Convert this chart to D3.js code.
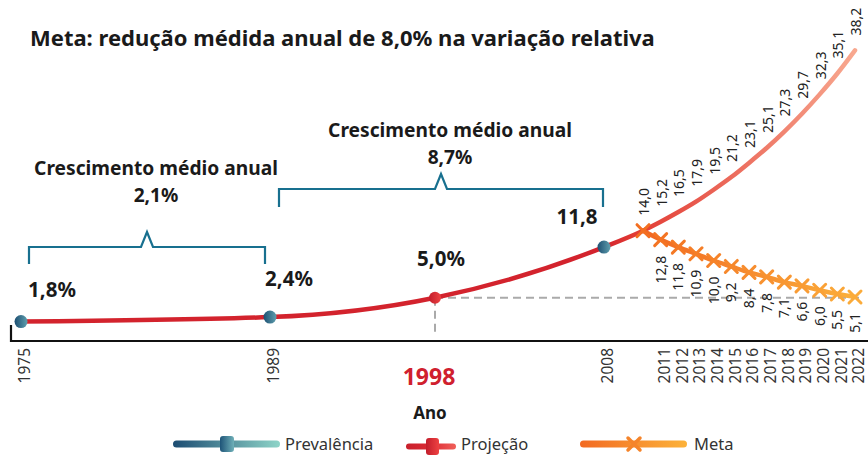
<!DOCTYPE html>
<html><head><meta charset="utf-8">
<script src="https://cdn.jsdelivr.net/npm/d3@7"></script>
<style>
html,body{margin:0;padding:0;background:#fff;}
svg{display:block;font-family:"Noto Sans",sans-serif;}
</style></head>
<body><svg id="c" width="868" height="455"></svg>
<script>
// ---- data ----
const prevYears = [1975, 1989, 2008];
const prevValues = [1.8, 2.4, 11.8];
const prevLabels = ["1,8%", "2,4%", "11,8"];
const projYears = [1975, 1989, 1998, 2008, 2010, 2011, 2012, 2013, 2014, 2015, 2016, 2017, 2018, 2019, 2020, 2021, 2022];
const projValues = [1.8, 2.4, 5.0, 11.8, 14.0, 15.2, 16.5, 17.9, 19.5, 21.2, 23.1, 25.1, 27.3, 29.7, 32.3, 35.1, 38.2];
const projLabelYears = [2010, 2011, 2012, 2013, 2014, 2015, 2016, 2017, 2018, 2019, 2020, 2021, 2022];
const projLabels = ["14,0","15,2","16,5","17,9","19,5","21,2","23,1","25,1","27,3","29,7","32,3","35,1","38,2"];
const metaYears = [2010, 2011, 2012, 2013, 2014, 2015, 2016, 2017, 2018, 2019, 2020, 2021, 2022];
const metaValues = [14.0, 12.8, 11.8, 10.9, 10.0, 9.2, 8.4, 7.8, 7.1, 6.6, 6.0, 5.5, 5.1];
const metaLabels = ["", "12,8","11,8","10,9","10,0","9,2","8,4","7,8","7,1","6,6","6,0","5,5","5,1"];
const tickYears = [1975, 1989, 2008, 2011, 2012, 2013, 2014, 2015, 2016, 2017, 2018, 2019, 2020, 2021, 2022];
const highlightYear = 1998, highlightValue = 5.0, highlightLabel = "5,0%";
const brackets = [
  {from: 1975, to: 1989, title: "Crescimento médio anual", value: "2,1%"},
  {from: 1989, to: 2008, title: "Crescimento médio anual", value: "8,7%"}
];
const titleText = "Meta: redução médida anual de 8,0% na variação relativa";
const axisTitle = "Ano";
const legendItems = ["Prevalência", "Projeção", "Meta"];

// ---- scales ----
const x = d3.scaleLinear().domain([1975, 1989, 1998, 2008, 2010, 2022]).range([21, 270, 435, 604, 643, 855]);
const y = d3.scaleLinear().domain([0, 40]).range([335, 37]);

const svg = d3.select("#c");
const defs = svg.append("defs");
function lg(id, stops, x1, x2) {
  const g = defs.append("linearGradient").attr("id", id);
  if (x1 !== undefined) g.attr("gradientUnits", "userSpaceOnUse").attr("x1", x1).attr("x2", x2).attr("y1", 0).attr("y2", 0);
  stops.forEach(s => g.append("stop").attr("offset", s[0]).attr("stop-color", s[1]));
}
lg("projG", [[0, "#d3232d"], [0.12, "#e23b34"], [1, "#f8a88f"]], x(2008), x(2022));
lg("metaG", [[0, "#f16722"], [1, "#fbb03b"]], x(2010), x(2022));
lg("blueDot", [[0, "#1d4f72"], [1, "#5f9fae"]]);
lg("redDot", [[0, "#c21d2b"], [1, "#ee4242"]]);
lg("legBlue", [[0, "#1c4c72"], [1, "#8ed4c8"]]);
lg("legRed", [[0, "#c8202c"], [0.5, "#dc2a33"], [1, "#f0605a"]]);
lg("legOrange", [[0, "#f26a22"], [1, "#fcb23a"]]);
lg("legMarkBlue", [[0, "#1e5478"], [1, "#6fb0b8"]]);

// title
svg.append("text").attr("x", 30).attr("y", 46).attr("font-size", 22).attr("font-weight", 700)
  .attr("fill", "#1a1a1a").text(titleText);

// axis line
svg.append("path").attr("d", `M11,325V341H868`).attr("fill", "none").attr("stroke", "#111").attr("stroke-width", 2.2);

// tick labels
svg.append("g").selectAll("text").data(tickYears).join("text")
  .attr("transform", d => `translate(${x(d) + 4},348) rotate(-90)`)
  .attr("text-anchor", "end").attr("dy", "0.35em").attr("font-size", 15.5).attr("fill", "#333")
  .text(d => d);

svg.append("text").attr("x", 429).attr("y", 385).attr("text-anchor", "middle")
  .attr("font-size", 23).attr("font-weight", 700).attr("fill", "#d0202e").text(highlightYear);
svg.append("text").attr("x", 430).attr("y", 419).attr("text-anchor", "middle")
  .attr("font-size", 17).attr("font-weight", 700).attr("fill", "#1a1a1a").text(axisTitle);

// dashed reference lines
svg.append("path").attr("d", `M${x(highlightYear)},${y(highlightValue)}V334M${x(highlightYear)},${y(highlightValue)}H${x(2022)+4}`)
  .attr("fill", "none").attr("stroke", "#aaa").attr("stroke-width", 2).attr("stroke-dasharray", "8,5");

// projection line
const line = d3.line().x(d => x(d[0])).y(d => y(d[1])).curve(d3.curveMonotoneX);
svg.append("path").datum(projYears.map((yr, i) => [yr, projValues[i]]))
  .attr("d", line).attr("fill", "none").attr("stroke", "url(#projG)").attr("stroke-width", 4.5).attr("stroke-linecap", "round");

// meta line
const metaData = metaYears.map((yr, i) => [yr, metaValues[i]]);
svg.append("path").datum(metaData).attr("d", line).attr("fill", "none")
  .attr("stroke", "url(#metaG)").attr("stroke-width", 4.5).attr("stroke-linecap", "round");
const mcol = d3.interpolateRgb("#f36f21", "#fbab3a");
svg.append("g").selectAll("path").data(metaData).join("path")
  .attr("transform", d => `translate(${x(d[0])},${y(d[1])})`)
  .attr("d", "M-6,-6L6,6M-6,6L6,-6").attr("stroke", (d, i) => mcol(i / (metaData.length - 1)))
  .attr("stroke-width", 3).attr("stroke-linecap", "round");

// projection labels
svg.append("g").selectAll("text").data(projLabelYears).join("text")
  .attr("transform", (d, i) => `translate(${x(d) + 1},${y(projValues[projYears.indexOf(d)]) - 15}) rotate(-90)`)
  .attr("dy", "0.35em").attr("font-size", 14).attr("fill", "#222")
  .text((d, i) => projLabels[i]);

// meta labels
svg.append("g").selectAll("text").data(metaYears).join("text")
  .attr("transform", (d, i) => `translate(${x(d)},${y(metaValues[i]) + 16}) rotate(-90)`)
  .attr("text-anchor", "end").attr("dy", "0.35em").attr("font-size", 14).attr("fill", "#222")
  .text((d, i) => metaLabels[i]);

// dots
svg.append("circle").attr("cx", x(highlightYear)).attr("cy", y(highlightValue)).attr("r", 6).attr("fill", "url(#redDot)");
svg.append("g").selectAll("circle").data(prevYears).join("circle")
  .attr("cx", d => x(d)).attr("cy", (d, i) => y(prevValues[i])).attr("r", 6.5).attr("fill", "url(#blueDot)");

// value labels
const lblDx = [31, 19, -27], lblDy = [25, 31, 23];
svg.append("g").selectAll("text").data(prevLabels).join("text")
  .attr("x", (d, i) => x(prevYears[i]) + lblDx[i])
  .attr("y", (d, i) => y(prevValues[i]) - lblDy[i])
  .attr("text-anchor", "middle").attr("font-size", 20.5).attr("font-weight", 700).attr("fill", "#1a1a1a")
  .text(d => d);
svg.append("text").attr("x", x(highlightYear) + 6).attr("y", y(highlightValue) - 32).attr("text-anchor", "middle")
  .attr("font-size", 20.5).attr("font-weight", 700).attr("fill", "#1a1a1a").text(highlightLabel);

// brackets
const bCfg = [{hy: 247, ey: 264, ty: 175, tx: 156}, {hy: 189, ey: 207, ty: 137, tx: 450}];
brackets.forEach((b, i) => {
  const c = bCfg[i];
  const x0 = x(b.from) + 8 + (i === 1 ? 1 : 0), x1 = x(b.to) - (i === 0 ? 5 : 1);
  const xm = (x0 + x1) / 2;
  svg.append("path").attr("d", `M${x0},${c.ey}V${c.hy}H${xm - 6}L${xm},${c.hy - 15}L${xm + 6},${c.hy}H${x1}V${c.ey}`)
    .attr("fill", "none").attr("stroke", "#18708f").attr("stroke-width", 2.2);
  svg.append("text").attr("x", c.tx).attr("y", c.ty).attr("text-anchor", "middle").attr("font-size", 19.2)
    .attr("font-weight", 700).attr("fill", "#1a1a1a").text(b.title);
  svg.append("text").attr("x", c.tx).attr("y", c.ty + 27).attr("text-anchor", "middle").attr("font-size", 19.2)
    .attr("font-weight", 700).attr("fill", "#1a1a1a").text(b.value);
});

// legend
const leg = svg.append("g");
leg.append("rect").attr("x", 173).attr("y", 440.5).attr("width", 107).attr("height", 7).attr("rx", 3.5).attr("fill", "url(#legBlue)");
leg.append("rect").attr("x", 220).attr("y", 436).attr("width", 14).attr("height", 16).attr("rx", 3).attr("fill", "url(#legMarkBlue)");
leg.append("text").attr("x", 285).attr("y", 450).attr("font-size", 16.5).attr("fill", "#333").text(legendItems[0]);
leg.append("rect").attr("x", 406).attr("y", 443.5).attr("width", 50).attr("height", 6).attr("rx", 3).attr("fill", "url(#legRed)");
leg.append("rect").attr("x", 426).attr("y", 438).attr("width", 13).attr("height", 17).attr("rx", 3).attr("fill", "url(#redDot)");
leg.append("text").attr("x", 461).attr("y", 450).attr("font-size", 16.5).attr("fill", "#333").text(legendItems[1]);
leg.append("rect").attr("x", 580).attr("y", 440.5).attr("width", 107).attr("height", 7).attr("rx", 3.5).attr("fill", "url(#legOrange)");
leg.append("path").attr("transform", "translate(634,444)").attr("d", "M-6,-6L6,6M-6,6L6,-6")
  .attr("stroke", "#f5842a").attr("stroke-width", 3.5).attr("stroke-linecap", "round");
leg.append("text").attr("x", 694).attr("y", 450).attr("font-size", 16.5).attr("fill", "#333").text(legendItems[2]);
</script></body></html>
